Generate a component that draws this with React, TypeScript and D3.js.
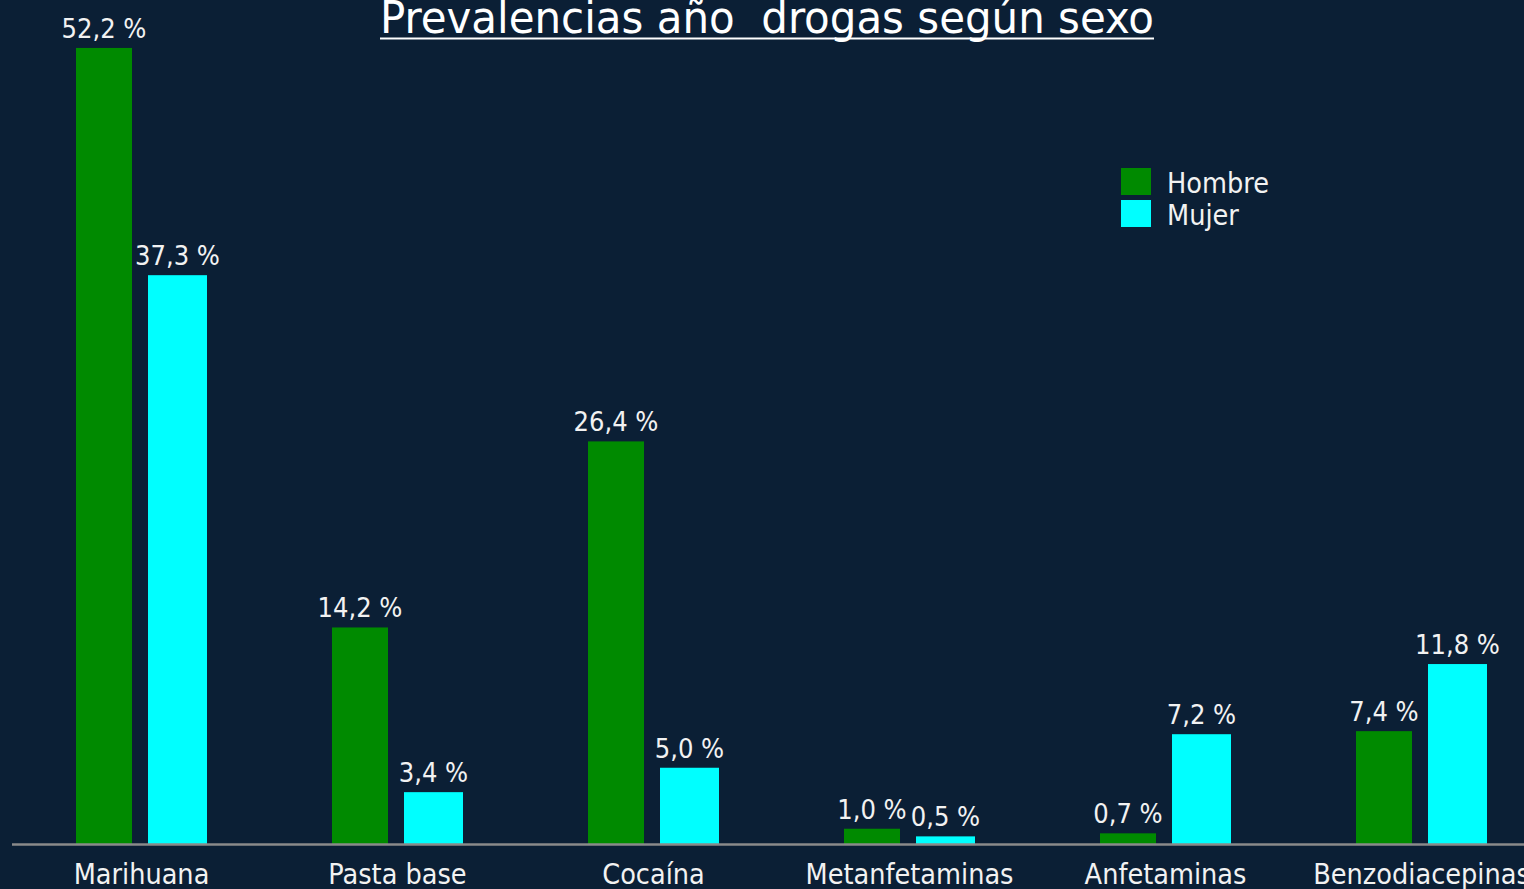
import React from "react";
import * as d3 from "d3";

const categories = ["Marihuana", "Pasta base", "Cocaína", "Metanfetaminas", "Anfetaminas", "Benzodiacepinas"];
const series = ["Hombre", "Mujer"];
const hombre = [52.2, 14.2, 26.4, 1.0, 0.7, 7.4];
const mujer = [37.3, 3.4, 5.0, 0.5, 7.2, 11.8];
const colors = ["#008a00", "#00ffff"];
const title = "Prevalencias año  drogas según sexo";

const W = 1524;
const H = 889;
const FONT = "'DejaVu Sans Condensed', 'DejaVu Sans', sans-serif";

export default function App() {
  const values = [hombre, mujer];
  const x0 = d3.scaleBand<string>().domain(categories).range([13.5, 1549.5]).padding(0);
  const x1 = d3.scaleBand<string>().domain(series).range([-65.5, 65.5]).paddingInner(13 / 72).paddingOuter(0);
  const y = d3.scaleLinear().domain([0, 55]).range([844, 5.25]);
  const fmt = (v: number) => d3.format(".1f")(v).replace(".", ",") + " %";
  const barW = (j: number) => (j === 0 ? x1.bandwidth() - 3 : x1.bandwidth());

  return (
    <svg
      width={W}
      height={H}
      style={{ position: "fixed", left: 0, top: 0, background: "#0b1f35", fontFamily: FONT }}
    >
      <rect x={0} y={0} width={W} height={H} fill="#0b1f35" />
      {/* title */}
      <text
        x={767}
        y={33}
        textAnchor="middle"
        fill="#ffffff"
        fontSize={44}
        textLength={774}
        lengthAdjust="spacingAndGlyphs"
        style={{ whiteSpace: "pre" }}
        xmlSpace="preserve"
      >
        {title}
      </text>
      <line x1={380} x2={1154} y1={38.5} y2={38.5} stroke="#ffffff" strokeWidth={2} />

      {/* bars */}
      {categories.map((c, i) => {
        const cx = (x0(c) as number) + x0.bandwidth() / 2;
        return (
          <g key={c} transform={`translate(${cx},0)`}>
            {series.map((s, j) => {
              const v = values[j][i];
              const bx = x1(s) as number;
              const bw = barW(j);
              const top = y(v);
              return (
                <g key={s}>
                  <rect x={bx} y={top} width={bw} height={844 - top} fill={colors[j]} />
                  <text
                    x={bx + bw / 2}
                    y={Math.max(top - 10, 33)}
                    textAnchor="middle"
                    fill="#f2f2f2"
                    fontSize={27}
                  >
                    {fmt(v)}
                  </text>
                </g>
              );
            })}
            <text x={0} y={884} textAnchor="middle" fill="#f2f2f2" fontSize={28.5}>
              {c}
            </text>
          </g>
        );
      })}

      {/* axis line */}
      <line x1={12} x2={W} y1={844.5} y2={844.5} stroke="#8a8a8a" strokeWidth={2.5} />

      {/* legend */}
      {series.map((s, j) => (
        <g key={s} transform={`translate(1121,${168 + j * 32})`}>
          <rect x={0} y={0} width={30} height={27} fill={colors[j]} />
          <text x={46} y={25} fill="#f2f2f2" fontSize={28.5}>
            {s}
          </text>
        </g>
      ))}
    </svg>
  );
}
